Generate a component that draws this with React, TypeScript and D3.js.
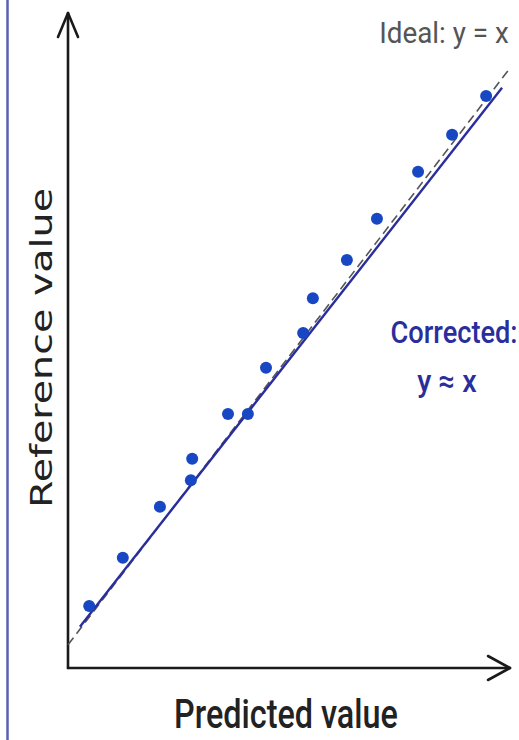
import React from 'react';
import * as d3 from 'd3';

// values (arbitrary units, 0–100)
const predicted = [4.8, 12.4, 20.8, 27.8, 28.1, 36.2, 40.7, 44.8, 53.2, 55.4, 63.1, 69.9, 79.2, 86.9, 94.6];
const reference = [6.7, 15.0, 23.8, 28.4, 32.1, 39.8, 39.8, 47.8, 53.8, 59.8, 66.4, 73.5, 81.6, 88.0, 94.7];

// y = x reference line and the fitted "corrected" line
const idealX = [0, 100];
const idealY = [0, 99.5];
const fitX = [2.7, 98.2];
const fitY = [3.1, 96.1];

const W = 519;
const H = 740;
const axisX = 68;
const axisY = 668;

const App: React.FC = () => {
  const x = d3.scaleLinear().domain([0, 100]).range([axisX, 510]);
  const y = d3.scaleLinear().domain([-4, 109]).range([axisY, 13]);

  const line = d3.line<[number, number]>()
    .x((d) => x(d[0]))
    .y((d) => y(d[1]));

  const ideal = idealX.map((v, i) => [v, idealY[i]] as [number, number]);
  const fit = fitX.map((v, i) => [v, fitY[i]] as [number, number]);

  const sans = 'Roboto, "Noto Sans", sans-serif';

  return (
    <svg width={W} height={H} style={{ position: 'absolute', left: 0, top: 0, display: 'block', background: '#fff' }}>
      {/* frame edge on the left */}
      <line x1={7.5} x2={7.5} y1={0} y2={H} stroke="#5a5fb0" strokeWidth={2.5} />

      {/* axes with open arrowheads */}
      <g stroke="#1a1a1a" strokeWidth={2.6} fill="none" strokeLinecap="round" strokeLinejoin="round">
        <line x1={axisX} x2={axisX} y1={axisY} y2={y(109)} />
        <polyline points={`${axisX - 10},${y(109) + 24} ${axisX},${y(109)} ${axisX + 10},${y(109) + 24}`} />
        <line x1={axisX} x2={x(100)} y1={axisY} y2={axisY} />
        <polyline points={`${x(100) - 22},${axisY - 12} ${x(100)},${axisY} ${x(100) - 22},${axisY + 12}`} />
      </g>

      {/* ideal y = x */}
      <path d={line(ideal) ?? ''} fill="none" stroke="#555" strokeWidth={1.6} strokeDasharray="9 5" />
      {/* corrected fit */}
      <path d={line(fit) ?? ''} fill="none" stroke="#2a2e9c" strokeWidth={2.4} />

      {/* points */}
      {predicted.map((p, i) => (
        <circle key={i} cx={x(p)} cy={y(reference[i])} r={6} fill="#1747c2" />
      ))}

      {/* labels */}
      <text transform="translate(444,43) scale(0.96,1)" textAnchor="middle" fontFamily={sans} fontSize={29} fill="#555">
        Ideal: y = x
      </text>
      <text transform="translate(454,343) scale(0.85,1)" textAnchor="middle" fontFamily={sans} fontSize={32}
        fontWeight={500} fill="#2a2e9c">Corrected:</text>
      <text transform="translate(447,392) scale(0.9,1)" textAnchor="middle" fontFamily={sans} fontSize={32}
        fontWeight={500} fill="#2a2e9c">y ≈ x</text>

      <text transform="translate(286,728) scale(0.81,1)" textAnchor="middle" fontFamily={sans} fontSize={40}
        fontWeight={500} fill="#222">Predicted value</text>
      <text transform="translate(52,348) rotate(-90)" textAnchor="middle" fontFamily='"DejaVu Sans", Verdana, sans-serif'
        fontSize={30} fill="#222" textLength={320} lengthAdjust="spacingAndGlyphs">Reference value</text>
    </svg>
  );
};

export default App;
